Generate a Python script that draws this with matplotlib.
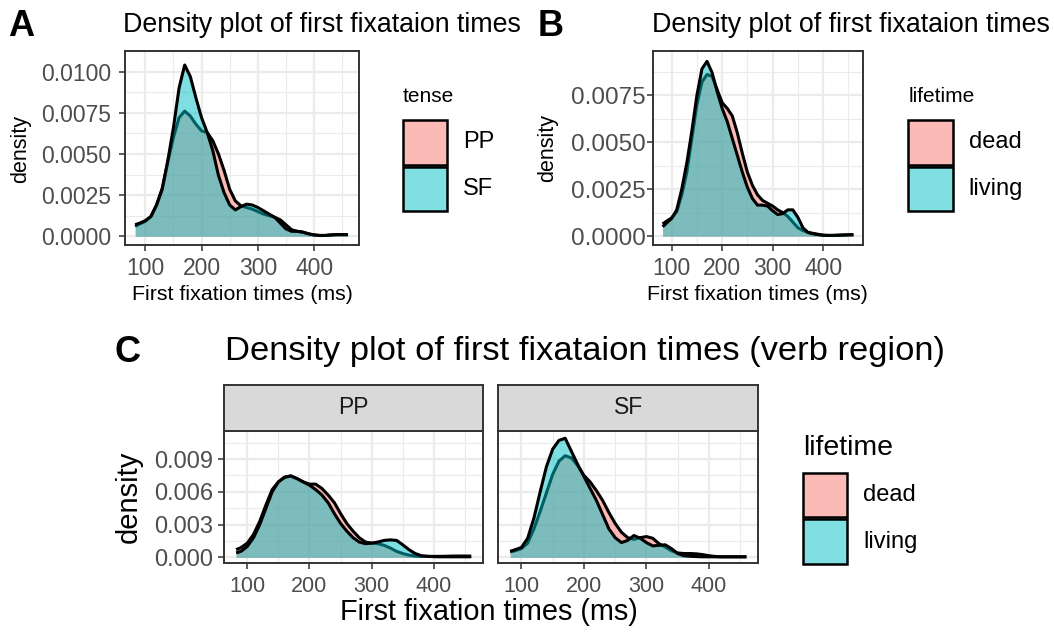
import matplotlib
matplotlib.use("Agg")
import matplotlib.pyplot as plt
from matplotlib.patches import Rectangle
from matplotlib.ticker import FormatStrFormatter

plt.rcParams["font.family"] = ["Liberation Sans", "DejaVu Sans"]

W, H = 1054, 636

time_ms = [82, 90, 100, 110, 120, 130, 140, 150, 160, 170, 180, 190, 200,
           210, 220, 230, 240, 250, 260, 270, 280, 290, 300, 310, 320, 330,
           340, 350, 360, 370, 380, 390, 400, 410, 420, 430, 440, 450, 460]

# panel A: tense (densities in 1/1000 ms)
tense_labels = ["PP", "SF"]
tense_pp = [0.60, 0.75, 0.90, 1.20, 1.90, 2.90, 4.50, 6.00, 7.20, 7.60, 7.30,
            6.80, 6.40, 6.30, 5.80, 5.00, 4.00, 2.85, 2.15, 1.85, 1.75, 1.65,
            1.50, 1.35, 1.25, 1.15, 1.00, 0.70, 0.40, 0.30, 0.25, 0.15, 0.08,
            0.05, 0.05, 0.08, 0.10, 0.10, 0.10]
tense_sf = [0.70, 0.80, 0.95, 1.20, 1.90, 2.85, 4.60, 6.60, 9.00, 10.40,
            9.70, 8.40, 7.20, 6.30, 5.20, 3.70, 2.65, 1.90, 1.60, 1.80, 1.95,
            1.90, 1.75, 1.55, 1.35, 1.15, 0.80, 0.45, 0.30, 0.30, 0.25, 0.15,
            0.08, 0.05, 0.05, 0.08, 0.10, 0.10, 0.10]

# panel B: lifetime
lifetime_labels = ["dead", "living"]
life_dead = [0.65, 0.80, 0.97, 1.30, 2.20, 3.40, 5.20, 7.00, 8.20, 8.60, 8.50,
             7.80, 7.10, 6.80, 6.40, 5.50, 4.40, 3.40, 2.70, 2.20, 1.90, 1.75,
             1.60, 1.40, 1.25, 1.05, 0.75, 0.45, 0.30, 0.20, 0.15, 0.10, 0.05,
             0.04, 0.04, 0.05, 0.06, 0.07, 0.08]
life_living = [0.50, 0.70, 0.95, 1.40, 2.50, 3.90, 5.60, 7.50, 8.90, 9.30,
               8.70, 7.70, 6.80, 6.10, 5.20, 4.30, 3.40, 2.60, 2.00, 1.65,
               1.65, 1.60, 1.35, 1.15, 1.20, 1.40, 1.40, 1.00, 0.45, 0.20,
               0.12, 0.08, 0.05, 0.04, 0.04, 0.05, 0.06, 0.07, 0.08]

# panel C: lifetime within each verb tense
facet_labels = ["PP", "SF"]
pp_dead = [0.70, 0.90, 1.30, 2.10, 3.30, 4.80, 6.20, 6.90, 7.30, 7.45, 7.20,
           6.90, 6.70, 6.70, 6.30, 5.70, 5.00, 4.00, 3.10, 2.40, 1.80, 1.40,
           1.30, 1.25, 1.10, 0.85, 0.55, 0.35, 0.20, 0.12, 0.09, 0.09, 0.09,
           0.09, 0.10, 0.12, 0.12, 0.12, 0.12]
pp_living = [0.40, 0.55, 1.00, 1.80, 3.00, 4.50, 6.00, 6.90, 7.35, 7.45, 7.20,
             6.90, 6.60, 6.20, 5.70, 5.00, 4.00, 3.10, 2.40, 1.80, 1.40, 1.25,
             1.30, 1.40, 1.55, 1.60, 1.55, 1.15, 0.70, 0.35, 0.15, 0.09, 0.06,
             0.05, 0.05, 0.05, 0.05, 0.05, 0.05]
sf_dead = [0.50, 0.60, 0.80, 1.30, 2.60, 4.20, 5.90, 7.60, 8.80, 9.30, 9.10,
           8.40, 7.50, 6.90, 6.10, 5.20, 4.10, 3.10, 2.30, 1.80, 1.65, 1.80,
           1.90, 1.75, 1.25, 0.95, 0.60, 0.40, 0.35, 0.35, 0.32, 0.25, 0.15,
           0.08, 0.05, 0.05, 0.05, 0.05, 0.05]
sf_living = [0.55, 0.70, 0.90, 1.75, 3.60, 6.00, 8.30, 9.90, 10.70, 10.90,
             9.70, 8.50, 7.40, 6.30, 5.20, 3.90, 2.60, 1.80, 1.35, 1.55, 2.00,
             1.75, 1.35, 1.05, 1.10, 1.15, 0.80, 0.35, 0.15, 0.10, 0.07, 0.05,
             0.05, 0.05, 0.05, 0.05, 0.05, 0.05, 0.05]

x_ticks = [100, 200, 300, 400]
ab_y_ticks = [0.0, 0.0025, 0.0050, 0.0075, 0.0100]
c_y_ticks = [0.0, 0.003, 0.006, 0.009]

PINK = "#F8766D"
CYAN = "#00BFC4"
KEY_PINK = "#FBBAB6"
KEY_CYAN = "#7FDFE1"
BORDER = "#333333"
GRID = "#EBEBEB"
TICK_TEXT = "#4D4D4D"
LW = 2.2


def px_rect(left, top, right, bottom):
    """Pixel box (origin top-left) to a figure-fraction rect."""
    return [left / W, 1 - bottom / H, (right - left) / W, (bottom - top) / H]


def draw_density(ax, first, second):
    """Two filled densities, ggplot order: first group, then second on top."""
    scale = 1e-3
    y1 = [v * scale for v in first]
    y2 = [v * scale for v in second]
    ax.fill_between(time_ms, y1, color=PINK, alpha=0.5, lw=0, zorder=2.0)
    ax.plot(time_ms, y1, color="black", lw=LW, zorder=2.1,
            solid_joinstyle="round", solid_capstyle="butt")
    ax.fill_between(time_ms, y2, color=CYAN, alpha=0.5, lw=0, zorder=2.2)
    ax.plot(time_ms, y2, color="black", lw=LW, zorder=2.3,
            solid_joinstyle="round", solid_capstyle="butt")


def style_axes(ax, ylim, yticks, yfmt, xsize, ysize, ypad, xpad,
               show_y=True):
    ax.set_xlim(63, 479)
    ax.set_ylim(*ylim)
    ax.set_xticks(x_ticks)
    ax.set_xticks([150, 250, 350, 450], minor=True)
    ax.set_yticks(yticks)
    step = yticks[1] - yticks[0]
    ax.set_yticks([t + step / 2 for t in yticks], minor=True)
    ax.yaxis.set_major_formatter(FormatStrFormatter(yfmt))
    ax.grid(which="major", color=GRID, lw=1.6)
    ax.grid(which="minor", color=GRID, lw=0.8)
    ax.set_axisbelow(True)
    for spine in ax.spines.values():
        spine.set_color(BORDER)
        spine.set_linewidth(1.4)
    ax.tick_params(which="major", length=4.3, width=1.1, color=BORDER,
                   labelcolor=TICK_TEXT)
    ax.tick_params(axis="x", labelsize=xsize, pad=xpad)
    ax.tick_params(axis="y", labelsize=ysize, pad=ypad)
    ax.tick_params(which="minor", length=0)
    if not show_y:
        ax.tick_params(axis="y", left=False, labelleft=False)


def draw_legend(over, left, title_base, key_top, title, labels, title_size,
                label_size, key=44.5, gap=2.2):
    over.text(left, title_base, title, fontsize=title_size, ha="left",
              va="baseline")
    for i, (lab, col) in enumerate(zip(labels, [KEY_PINK, KEY_CYAN])):
        top = key_top + i * (key + gap)
        over.add_patch(Rectangle((left, top), key, key, facecolor=col,
                                 edgecolor="black", lw=1.8))
        over.text(left + key + 16, top + key / 2, lab, fontsize=label_size,
                  ha="left", va="center")


fig = plt.figure(figsize=(W / 100, H / 100), dpi=100)

ax_a = fig.add_axes(px_rect(124.5, 51, 358.5, 245))
draw_density(ax_a, tense_pp, tense_sf)
style_axes(ax_a, (-0.00053, 0.01108), ab_y_ticks, "%.4f", 16.5, 16.5,
           5.2, 4.6)

ax_b = fig.add_axes(px_rect(653, 51, 863, 245))
draw_density(ax_b, life_dead, life_living)
style_axes(ax_b, (-0.00047, 0.00985), ab_y_ticks[:-1], "%.4f", 16.5, 17.5,
           0.8, 4.6)

ax_pp = fig.add_axes(px_rect(224.3, 430.7, 483, 562.7))
draw_density(ax_pp, pp_dead, pp_living)
style_axes(ax_pp, (-0.00049, 0.01159), c_y_ticks, "%.3f", 15.5, 17,
           3.5, 5.0)

ax_sf = fig.add_axes(px_rect(498.3, 430.7, 758.3, 562.7))
draw_density(ax_sf, sf_dead, sf_living)
style_axes(ax_sf, (-0.00049, 0.01159), c_y_ticks, "%.3f", 15.5, 17,
           3.5, 5.0, show_y=False)

# facet strips
for rect, lab in [((224.3, 385, 483, 430.7), facet_labels[0]),
                  ((498.3, 385, 758.3, 430.7), facet_labels[1])]:
    strip = fig.add_axes(px_rect(*rect))
    strip.set_facecolor("#D9D9D9")
    strip.set_xticks([])
    strip.set_yticks([])
    for spine in strip.spines.values():
        spine.set_color(BORDER)
        spine.set_linewidth(1.4)
    strip.text(0.5, 0.5, lab, transform=strip.transAxes, ha="center",
               va="center", fontsize=16.5, color="#1A1A1A")

# overlay in pixel coordinates for titles, labels and legends
over = fig.add_axes([0, 0, 1, 1], zorder=-1)
over.set_xlim(0, W)
over.set_ylim(H, 0)
over.axis("off")

title = "Density plot of first fixataion times"
over.text(8, 36, "A", fontsize=26, fontweight="bold", va="baseline")
over.text(538, 36, "B", fontsize=26, fontweight="bold", va="baseline")
over.text(115, 361.7, "C", fontsize=26, fontweight="bold", va="baseline")
over.text(123, 31.7, title, fontsize=19.3, va="baseline")
over.text(652, 31.7, title, fontsize=19.3, va="baseline")
over.text(225, 360, title + " (verb region)", fontsize=24.8, va="baseline")

over.text(20.5, 149, "density", fontsize=15.5, rotation=90, ha="center",
          va="center")
over.text(548, 148, "density", fontsize=15.5, rotation=90, ha="center",
          va="center")
over.text(129, 496.7, "density", fontsize=21, rotation=90, ha="center",
          va="center")
over.text(242.5, 300, "First fixation times (ms)", fontsize=15.4,
          ha="center", va="baseline")
over.text(757.5, 300, "First fixation times (ms)", fontsize=15.4,
          ha="center", va="baseline")
over.text(489, 620, "First fixation times (ms)", fontsize=20.8, ha="center",
          va="baseline")

draw_legend(over, 402.7, 101.7, 120, "tense", tense_labels, 15, 17)
draw_legend(over, 908.3, 101.7, 120, "lifetime", lifetime_labels, 15, 17)
draw_legend(over, 802.7, 455, 472.7, "lifetime", lifetime_labels, 20.5, 17)

fig.savefig("out.png", dpi=100)
